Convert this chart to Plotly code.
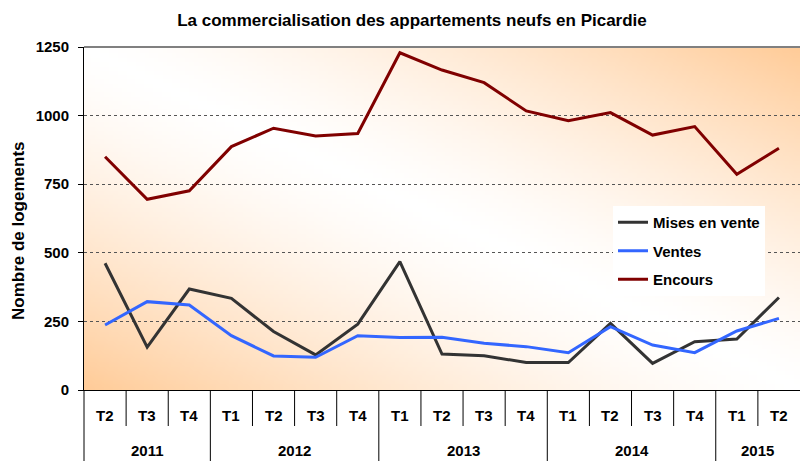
import base64, struct, zlib
import plotly.graph_objects as go

title = "La commercialisation des appartements neufs en Picardie"
years = ["2011"] * 3 + ["2012"] * 4 + ["2013"] * 4 + ["2014"] * 4 + ["2015"] * 2
quarters = ["T2", "T3", "T4",
            "T1", "T2", "T3", "T4",
            "T1", "T2", "T3", "T4",
            "T1", "T2", "T3", "T4",
            "T1", "T2"]
mises_en_vente = [462, 156, 368, 334, 213, 128, 240, 468, 131, 125, 100, 100, 243, 97, 176, 186, 337]
ventes = [237, 322, 310, 198, 124, 119, 198, 191, 192, 170, 158, 136, 231, 164, 136, 215, 261]
encours = [850, 695, 726, 887, 954, 926, 935, 1229, 1166, 1120, 1017, 981, 1011, 929, 960, 786, 881]
y_ticks = [0, 250, 500, 750, 1000, 1250]

FONT = "Liberation Sans, Arial, sans-serif"
idx = list(range(len(quarters)))
n = len(quarters)

# plot area in pixels
L, R, T, B = 84, 800, 47, 390
PW, PH = R - L, B - T


def gradient_png(w=160, h=80):
    orange = (255, 204, 153)
    rows = []
    for j in range(h):
        v = j / (h - 1)
        row = bytearray([0])
        for i in range(w):
            u = i / (w - 1)
            t = min(1.0, abs(u - v)) ** 1.4
            row += bytes(int(round(255 + t * (c - 255))) for c in orange)
        rows.append(bytes(row))
    raw = b"".join(rows)

    def chunk(tag, data):
        c = struct.pack(">I", len(data)) + tag + data
        return c + struct.pack(">I", zlib.crc32(tag + data) & 0xffffffff)

    png = b"\x89PNG\r\n\x1a\n"
    png += chunk(b"IHDR", struct.pack(">IIBBBBB", w, h, 8, 2, 0, 0, 0))
    png += chunk(b"IDAT", zlib.compress(raw, 9))
    png += chunk(b"IEND", b"")
    return "data:image/png;base64," + base64.b64encode(png).decode()


fig = go.Figure()
series = [("Mises en vente", mises_en_vente, "#333333"),
          ("Ventes", ventes, "#3366FF"),
          ("Encours", encours, "#800000")]
for name, vals, col in series:
    fig.add_trace(go.Scatter(x=idx, y=vals, mode="lines", name=name, legendgroup=name,
                             line=dict(color=col, width=3)))

# separators below the x axis
shapes = []
for b in range(n):
    px = b / n
    is_year = b == 0 or years[b] != years[b - 1]
    shapes.append(dict(type="line", xref="paper", yref="paper", ysizemode="pixel", yanchor=0,
                       x0=px, x1=px, y0=0, y1=-71 if is_year else -36,
                       line=dict(color="#000000", width=1)))
# top border
shapes.append(dict(type="line", xref="paper", yref="paper", x0=0, x1=1, y0=1, y1=1,
                   line=dict(color="#808080", width=2)))

annotations = []
for i, q in enumerate(quarters):
    annotations.append(dict(x=i, y=0, xref="x", yref="paper", text=q, showarrow=False,
                            yanchor="middle", yshift=-25,
                            font=dict(family=FONT, size=15, color="#000000", weight="bold")))
seen = []
for y in years:
    if y not in seen:
        seen.append(y)
for y in seen:
    pos = [i for i, yy in enumerate(years) if yy == y]
    annotations.append(dict(x=(pos[0] + pos[-1]) / 2, y=0, xref="x", yref="paper", text=y,
                            showarrow=False, yanchor="middle", yshift=-60,
                            font=dict(family=FONT, size=15, color="#000000", weight="bold")))
annotations.append(dict(x=(18 - L) / PW, y=(B - 231) / PH, xref="paper", yref="paper",
                        text="Nombre de logements", textangle=-90, showarrow=False,
                        xanchor="center", yanchor="middle",
                        font=dict(family=FONT, size=17, color="#000000", weight="bold")))

fig.update_layout(
    width=801, height=461,
    margin=dict(l=L, r=801 - R, t=T, b=461 - B),
    paper_bgcolor="white",
    plot_bgcolor="rgba(0,0,0,0)",
    title=dict(text=title, x=412 / 801, xref="container", xanchor="center",
               y=1 - 20 / 461, yref="container", yanchor="middle",
               font=dict(family=FONT, size=17, color="#000000", weight="bold")),
    xaxis=dict(range=[-0.5, n - 0.5], showticklabels=False, ticks="", showgrid=False,
               zeroline=False, showline=True, linecolor="#000000", linewidth=1, fixedrange=True),
    yaxis=dict(range=[0, 1250], tickvals=y_ticks, ticks="outside", ticklen=5, tickcolor="#000000",
               showline=True, linecolor="#000000", linewidth=1,
               showgrid=True, gridcolor="#555555", griddash="dot", gridwidth=1,
               zeroline=False, ticklabelstandoff=6,
               tickfont=dict(family=FONT, size=15, color="#000000", weight="bold")),
    legend=dict(x=(613 - L) / PW, y=(B - 206) / PH, xanchor="left", yanchor="top",
                bgcolor="white", borderwidth=0, tracegroupgap=6,
                font=dict(family=FONT, size=15, color="#000000", weight="bold")),
    shapes=shapes,
    annotations=annotations,
    images=[dict(source=gradient_png(), xref="paper", yref="paper", x=0, y=1, sizex=1, sizey=1,
                 sizing="stretch", layer="below", xanchor="left", yanchor="top")],
)

fig.write_html("out.html", config={"displayModeBar": False},
               post_script="document.body.style.margin='0px';")
